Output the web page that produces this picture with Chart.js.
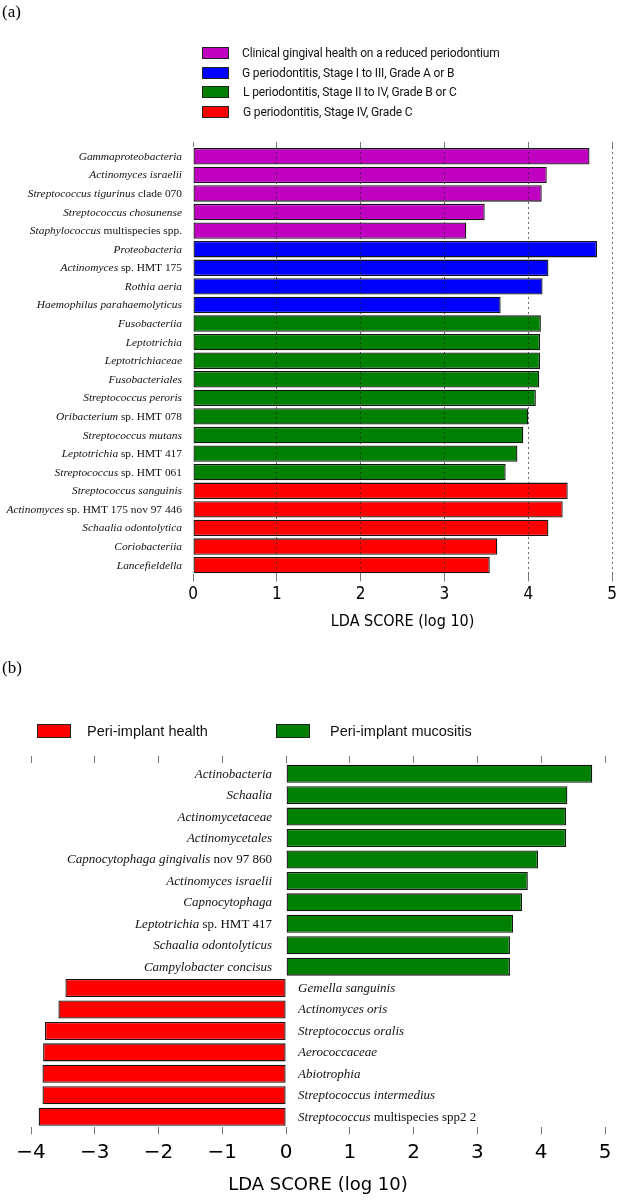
<!DOCTYPE html>
<html>
<head>
<meta charset="utf-8">
<script src="https://cdn.jsdelivr.net/npm/chart.js@4.4.1/dist/chart.umd.min.js"></script>
<style>
  body { margin: 0; background: #fff; }
  #page { position: relative; width: 620px; height: 1200px; overflow: hidden; background: #fff; }
  canvas { position: absolute; left: 0; }
  #chartA { top: 0; }
  #chartB { top: 640px; }
  .panel { position: absolute; left: 2px; font: 17px "Liberation Serif", serif; color: #000; }
  .leg { position: absolute; display: flex; align-items: center; white-space: nowrap; color: #111; }
  .leg i { display: inline-block; border: 1px solid #222; box-sizing: border-box; }
  .legA { font: 12px Roboto, sans-serif; letter-spacing: -0.15px; }
  .legB { font: 14.5px "Liberation Sans", Arial, sans-serif; }
</style>
</head>
<body>
<div id="page">
  <canvas id="chartA" width="620" height="640"></canvas>
  <canvas id="chartB" width="620" height="560"></canvas>
  <div class="panel" style="top:2px">(a)</div>
  <div class="panel" style="top:658px">(b)</div>
  <div id="legendA"></div>
  <div id="legendB"></div>
</div>
<script>
// ---- panel (a): periodontal groups ----
const healthTaxa = ['Gammaproteobacteria', 'Actinomyces israelii', 'Streptococcus tigurinus clade 070',
  'Streptococcus chosunense', 'Staphylococcus multispecies spp.'];
const healthScores = [4.73, 4.22, 4.16, 3.48, 3.26];

const stage13Taxa = ['Proteobacteria', 'Actinomyces sp. HMT 175', 'Rothia aeria', 'Haemophilus parahaemolyticus'];
const stage13Scores = [4.82, 4.24, 4.17, 3.67];

const localTaxa = ['Fusobacteriia', 'Leptotrichia', 'Leptotrichiaceae', 'Fusobacteriales',
  'Streptococcus peroris', 'Oribacterium sp. HMT 078', 'Streptococcus mutans',
  'Leptotrichia sp. HMT 417', 'Streptococcus sp. HMT 061'];
const localScores = [4.15, 4.14, 4.14, 4.13, 4.09, 4.00, 3.94, 3.87, 3.73];

const stage4Taxa = ['Streptococcus sanguinis', 'Actinomyces sp. HMT 175 nov 97 446',
  'Schaalia odontolytica', 'Coriobacteriia', 'Lancefieldella'];
const stage4Scores = [4.47, 4.41, 4.24, 3.63, 3.54];

const groupNamesA = ['Clinical gingival health on a reduced periodontium',
  'G periodontitis, Stage I to III, Grade A or B',
  'L periodontitis, Stage II to IV, Grade B or C',
  'G periodontitis, Stage IV, Grade C'];
const groupColorsA = ['#c000c0', '#0000ff', '#008000', '#ff0000'];
const ticksA = [0, 1, 2, 3, 4, 5];

// ---- panel (b): peri-implant ----
const mucositisTaxa = ['Actinobacteria', 'Schaalia', 'Actinomycetaceae', 'Actinomycetales',
  'Capnocytophaga gingivalis nov 97 860', 'Actinomyces israelii', 'Capnocytophaga',
  'Leptotrichia sp. HMT 417', 'Schaalia odontolyticus', 'Campylobacter concisus'];
const mucositisScores = [4.80, 4.41, 4.39, 4.39, 3.95, 3.79, 3.70, 3.56, 3.51, 3.51];

const implantHealthTaxa = ['Gemella sanguinis', 'Actinomyces oris', 'Streptococcus oralis',
  'Aerococcaceae', 'Abiotrophia', 'Streptococcus intermedius', 'Streptococcus multispecies spp2 2'];
const implantHealthScores = [-3.46, -3.57, -3.78, -3.81, -3.82, -3.82, -3.88];

const groupNamesB = ['Peri-implant health', 'Peri-implant mucositis'];
const groupColorsB = ['#ff0000', '#008000'];

const serif = '"Liberation Serif", "Times New Roman", serif';
const sans = '"DejaVu Sans", sans-serif';

// italic taxon name, roman qualifier (sp., clade, nov, multispecies)
const taxonLabels = {
  id: 'taxonLabels',
  afterDatasetsDraw(chart, args, opts) {
    const { ctx, scales: { x, y } } = chart;
    const zero = x.getPixelForValue(0);
    chart.data.labels.forEach((label, i) => {
      const m = label.match(/^(.*?)(\s(?:sp\.|clade|multispecies|nov)(?=\s|$).*)?$/);
      const ital = m[1], rom = m[2] || '';
      const v = chart.data.datasets.map(d => d.data[i]).find(d => d != null);
      ctx.save();
      ctx.fillStyle = '#111';
      ctx.textBaseline = 'middle';
      ctx.font = `italic ${opts.size}px ${serif}`;
      const wi = ctx.measureText(ital).width;
      ctx.font = `${opts.size}px ${serif}`;
      const wr = ctx.measureText(rom).width;
      const x0 = v < 0 ? zero + opts.gapRight : zero - opts.gapLeft - wi - wr;
      const yy = y.getPixelForValue(i) + 0.5;
      ctx.font = `italic ${opts.size}px ${serif}`;
      ctx.fillText(ital, x0, yy);
      ctx.font = `${opts.size}px ${serif}`;
      ctx.fillText(rom, x0 + wi, yy);
      ctx.restore();
    });
  }
};

function buildSets(labels, groups) {
  return groups.map(g => ({
    data: labels.map(l => {
      const k = g.taxa.indexOf(l);
      return k >= 0 ? g.scores[k] : null;
    }),
    backgroundColor: g.color,
    borderColor: '#151515',
    borderWidth: 1.3,
    borderSkipped: false,
    grouped: false,
    barPercentage: g.bar,
    categoryPercentage: 1
  }));
}

function legendHtml(el, names, colors, cls, pos) {
  el.innerHTML = names.map((n, i) => {
    const p = pos[i];
    return `<div class="leg ${cls}" style="left:${p.x}px;top:${p.y}px;height:14px">` +
      `<i style="width:${p.w}px;height:${p.h}px;background:${colors[i]};margin-right:${p.gap}px"></i>${n}</div>`;
  }).join('');
}

document.addEventListener('DOMContentLoaded', () => {
  legendHtml(document.getElementById('legendA'), groupNamesA, groupColorsA, 'legA', [
    { x: 202, y: 46, w: 27, h: 12, gap: 13 },
    { x: 202, y: 66, w: 27, h: 12, gap: 13 },
    { x: 202, y: 85, w: 27, h: 12, gap: 14 },
    { x: 202, y: 105, w: 27, h: 12, gap: 14 }
  ]);
  legendHtml(document.getElementById('legendB'), groupNamesB, groupColorsB, 'legB', [
    { x: 37, y: 724, w: 34, h: 14, gap: 16 },
    { x: 276, y: 724, w: 34, h: 14, gap: 20 }
  ]);

  const labelsA = [...healthTaxa, ...stage13Taxa, ...localTaxa, ...stage4Taxa];
  const setsA = buildSets(labelsA, [
    { taxa: healthTaxa, scores: healthScores, color: groupColorsA[0], bar: 0.88 },
    { taxa: stage13Taxa, scores: stage13Scores, color: groupColorsA[1], bar: 0.88 },
    { taxa: localTaxa, scores: localScores, color: groupColorsA[2], bar: 0.88 },
    { taxa: stage4Taxa, scores: stage4Scores, color: groupColorsA[3], bar: 0.88 }
  ]);

  new Chart(document.getElementById('chartA'), {
    type: 'bar',
    data: { labels: labelsA, datasets: setsA },
    plugins: [taxonLabels],
    options: {
      responsive: false,
      animation: false,
      indexAxis: 'y',
      layout: { padding: { left: 193, right: 6, top: 142, bottom: 5 } },
      plugins: {
        legend: { display: false },
        tooltip: { enabled: false },
        taxonLabels: { size: 11.4, gapLeft: 11, gapRight: 12 }
      },
      scales: {
        x: {
          type: 'linear', position: 'bottom', min: ticksA[0], max: ticksA[ticksA.length - 1],
          afterBuildTicks: s => { s.ticks = ticksA.map(v => ({ value: v })); },
          ticks: { padding: 3, color: '#000', font: { family: '"DejaVu Sans Condensed", "DejaVu Sans"', size: 17 } },
          grid: {
            z: 1,
            color: c => (c.tick && c.tick.value === 0) ? 'rgba(0,0,0,0)' : 'rgba(40,40,40,0.7)',
            tickColor: '#777', tickLength: 7, lineWidth: 1
          },
          border: { display: false, dash: [2, 3] },
          title: {
            display: true, text: 'LDA SCORE (log 10)', color: '#000',
            font: { family: '"DejaVu Sans Condensed", "DejaVu Sans"', size: 16 }, padding: { top: 4, bottom: 4 }
          }
        },
        x2: {
          type: 'linear', position: 'top', min: 0, max: 5,
          afterBuildTicks: s => { s.ticks = ticksA.map(v => ({ value: v })); },
          ticks: { display: false },
          grid: { drawOnChartArea: false, tickLength: 5, tickColor: '#777' },
          border: { display: false }
        },
        y: { type: 'category', display: false, offset: true }
      }
    }
  });

  const labelsB = [...mucositisTaxa, ...implantHealthTaxa];
  const setsB = buildSets(labelsB, [
    { taxa: implantHealthTaxa, scores: implantHealthScores, color: groupColorsB[0], bar: 0.84 },
    { taxa: mucositisTaxa, scores: mucositisScores, color: groupColorsB[1], bar: 0.84 }
  ]);

  new Chart(document.getElementById('chartB'), {
    type: 'bar',
    data: { labels: labelsB, datasets: setsB },
    plugins: [taxonLabels],
    options: {
      responsive: false,
      animation: false,
      indexAxis: 'y',
      layout: { padding: { left: 31, right: 15, top: 116, bottom: 0 } },
      plugins: {
        legend: { display: false },
        tooltip: { enabled: false },
        taxonLabels: { size: 13, gapLeft: 14, gapRight: 12 }
      },
      scales: {
        x: {
          type: 'linear', position: 'bottom', min: -4, max: 5,
          ticks: {
            stepSize: 1, padding: 6, color: '#000', font: { family: sans, size: 20 },
            callback: v => String(v).replace('-', '\u2212')
          },
          grid: { drawOnChartArea: false, tickColor: '#777', tickLength: 7 },
          border: { display: false },
          title: {
            display: true, text: 'LDA SCORE (log 10)', color: '#000',
            font: { family: sans, size: 18 }, padding: { top: 4, bottom: 4 }
          }
        },
        x2: {
          type: 'linear', position: 'top', min: -4, max: 5,
          ticks: { display: false, stepSize: 1 },
          grid: { drawOnChartArea: false, tickLength: 7, tickColor: '#777' },
          border: { display: false }
        },
        y: { type: 'category', display: false, offset: true }
      }
    }
  });
});
</script>
</body>
</html>
